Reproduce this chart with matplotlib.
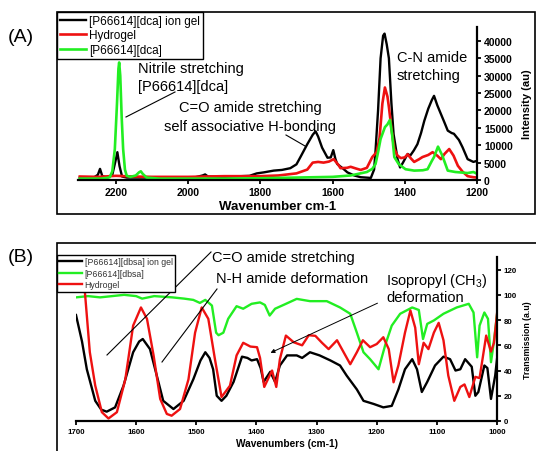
import numpy as np
import matplotlib
matplotlib.use("Agg")
import matplotlib.pyplot as plt
from matplotlib.patches import Rectangle
from matplotlib.lines import Line2D

plt.rcParams['font.family'] = ['Liberation Sans', 'DejaVu Sans']
plt.rcParams['mathtext.fontset'] = 'custom'
plt.rcParams['mathtext.rm'] = 'Liberation Sans'

# Panel A data (Raman) =======================================================
wn_a_gel = [2300, 2260, 2250, 2244, 2238, 2225, 2210, 2200, 2196, 2190, 2183, 2170, 2100, 2060,
            1980, 1960, 1953, 1945, 1900, 1830, 1810, 1790, 1763, 1740, 1717, 1700, 1689, 1670,
            1655, 1647, 1640, 1629, 1614, 1605, 1598, 1592, 1587, 1570, 1559, 1540, 1522, 1494,
            1485, 1481, 1474, 1467, 1460, 1456, 1450, 1444, 1437, 1431, 1420, 1413, 1405, 1392,
            1385, 1375, 1365, 1355, 1346, 1335, 1325, 1319, 1310, 1300, 1290, 1281, 1270, 1264,
            1250, 1240, 1226, 1210, 1200]
int_a_gel = [700, 800, 1500, 3200, 1200, 700, 1500, 6000, 8000, 4000, 1000, 700, 700, 800,
             800, 1300, 1600, 1000, 900, 1200, 1900, 2200, 2700, 2900, 3400, 4500, 6600, 10300,
             13000, 14000, 12500, 9300, 6400, 6500, 8600, 6000, 4600, 3200, 2200, 1300, 800, 600,
             3000, 8400, 20000, 35000, 41500, 42100, 39000, 35000, 22000, 13200, 6000, 3600, 5000, 7500,
             7000, 8500, 10300, 13500, 17000, 20500, 23000, 24200, 21500, 19000, 16500, 14200, 13500, 13300,
             11500, 9400, 6000, 5200, 5500]

wn_a_hyd = [2300, 2250, 2200, 2150, 2100, 2000, 1900, 1800, 1750, 1700, 1670, 1655, 1640, 1625,
            1610, 1597, 1585, 1578, 1560, 1550, 1535, 1522, 1505, 1490, 1478, 1470, 1462, 1455,
            1448, 1444, 1436, 1429, 1420, 1411, 1400, 1392, 1383, 1374, 1360, 1351, 1335, 1323,
            1310, 1300, 1290, 1277, 1265, 1253, 1240, 1226, 1210, 1200]
int_a_hyd = [1000, 900, 1200, 1000, 900, 900, 1100, 1100, 1300, 1900, 3000, 5000, 5200, 5000,
             5300, 6000, 4500, 3400, 3500, 3800, 3300, 2900, 3500, 6600, 8000, 12000, 22000, 26600,
             24000, 21000, 14000, 8900, 7000, 6300, 6500, 7400, 6200, 5200, 6000, 6600, 7200, 8000,
             7000, 6000, 7500, 8900, 7000, 4100, 2400, 1100, 800, 700]

wn_a_il = [2300, 2240, 2225, 2217, 2210, 2203, 2197, 2193, 2191, 2188, 2184, 2180, 2175, 2170,
           2160, 2145, 2136, 2131, 2126, 2115, 2080, 2000, 1900, 1800, 1700, 1600, 1550, 1505,
           1490, 1481, 1474, 1467, 1455, 1448, 1441, 1435, 1429, 1417, 1398, 1374, 1350, 1337,
           1325, 1319, 1308, 1296, 1281, 1260, 1226, 1210, 1200]
int_a_il = [400, 400, 600, 800, 2500, 8900, 22000, 32000, 33800, 30000, 18000, 8900, 3000, 1200,
            900, 1300, 2200, 2500, 1800, 700, 400, 400, 400, 500, 700, 900, 1300, 2300,
            3200, 4600, 8000, 11800, 15200, 16000, 17300, 13000, 6600, 4600, 3100, 2700, 2800, 3100,
            5500, 6600, 9600, 7000, 2700, 2300, 2000, 2300, 1800]

# Panel B data (FTIR) ========================================================
wn_b_gel = [1700, 1690, 1682, 1668, 1658, 1649, 1635, 1621, 1605, 1595, 1589, 1577, 1563, 1555,
            1538, 1521, 1505, 1493, 1485, 1478, 1472, 1466, 1458, 1450, 1438, 1424, 1415, 1408,
            1399, 1393, 1388, 1377, 1369, 1361, 1349, 1333, 1324, 1311, 1295, 1277, 1261, 1250,
            1233, 1222, 1205, 1189, 1175, 1164, 1153, 1141, 1133, 1125, 1116, 1103, 1089, 1078,
            1069, 1061, 1053, 1042, 1036, 1031, 1021, 1016, 1010, 1003, 1000]
tr_b_gel = [84, 63, 41, 16, 9, 7.4, 10.8, 28, 54.5, 63, 65, 57, 31, 16,
            9.5, 16, 33, 48, 54.5, 50, 41, 20, 16, 20, 31, 51, 50, 48,
            49, 42, 31, 39, 31, 44, 52, 52, 50, 54.5, 52, 48, 44, 36,
            25, 16, 13.5, 10.8, 12, 25, 41, 49, 41, 23, 31, 44, 51, 49,
            40, 41, 49, 43, 20, 23, 44, 42, 17.5, 36, 49]

wn_b_il = [1700, 1680, 1660, 1640, 1620, 1600, 1590, 1570, 1540, 1520, 1505, 1494, 1485, 1474,
           1467, 1463, 1455, 1447, 1433, 1422, 1408, 1394, 1386, 1378, 1369, 1355, 1333, 1311,
           1283, 1261, 1244, 1233, 1222, 1211, 1197, 1186, 1175, 1161, 1141, 1130, 1123, 1116,
           1105, 1089, 1067, 1047, 1039, 1033, 1029, 1021, 1015, 1010, 1006, 1000]
tr_b_il = [98, 99, 98, 99, 100, 99, 97, 99, 98, 97, 96, 93.6, 96, 91.5,
           70, 68, 70, 81, 91, 89, 92.9, 94, 92, 83.6, 89, 92, 96.8, 95,
           95, 90, 85, 70, 54.5, 49, 41, 60, 75.6, 85, 90, 88, 65, 77,
           79.7, 85, 90, 92.9, 86, 50.5, 75.6, 86, 81, 46.6, 60, 84]

wn_b_hyd = [1685, 1677, 1668, 1657, 1646, 1632, 1618, 1605, 1592, 1582, 1571, 1560, 1549, 1541,
            1527, 1513, 1502, 1491, 1480, 1469, 1458, 1444, 1433, 1422, 1410, 1399, 1394, 1387,
            1374, 1367, 1361, 1351, 1338, 1324, 1313, 1302, 1291, 1280, 1266, 1255, 1244, 1233,
            1223, 1211, 1200, 1189, 1180, 1172, 1164, 1153, 1144, 1136, 1130, 1122, 1114, 1105,
            1097, 1089, 1081, 1071, 1061, 1054, 1046, 1036, 1029, 1018, 1010, 1005, 1000]
tr_b_hyd = [101, 54.5, 28, 7, 2, 7, 33, 75.6, 90, 81, 52, 17.5, 5.6, 4.2,
            9.5, 33, 70, 90, 81, 49, 19, 28, 52, 62, 59, 58.5, 50, 27,
            40, 27, 49, 67.7, 62.4, 60, 68, 67.5, 62, 57, 64, 54.5, 45, 54.5,
            64, 58.5, 61, 66.4, 57, 30.7, 44, 70, 87.6, 74, 45, 62, 57, 70,
            77.8, 64, 36, 16, 27, 29, 19, 35, 34, 67.7, 55, 62, 85]

W, H = 536, 452
def fx(x): return x/W
def fy(y): return 1 - y/H

GREEN = '#22ee22'
RED = '#ee1111'

fig = plt.figure(figsize=(W/100, H/100), dpi=100)

def style_axes(ax, fs):
    for s in ['top', 'left']:
        ax.spines[s].set_visible(False)
    for s in ['bottom', 'right']:
        ax.spines[s].set_linewidth(1.6)
    ax.yaxis.tick_right()
    ax.yaxis.set_label_position('right')
    ax.tick_params(direction='out', length=3, width=1.3, labelsize=fs, pad=2)
    for lab in ax.get_xticklabels() + ax.get_yticklabels():
        lab.set_fontweight('bold')

# (A) =========================================================================
axA = fig.add_axes([fx(78), fy(181), (477-78)/W, (181-28)/H])
axA.plot(wn_a_gel, int_a_gel, color='black', lw=1.7, label='[P66614][dca] ion gel')
axA.plot(wn_a_hyd, int_a_hyd, color=RED, lw=1.9, label='Hydrogel')
axA.plot(wn_a_il, int_a_il, color=GREEN, lw=1.9, label='[P66614][dca]')
axA.set_xlim(2305, 1200); axA.set_ylim(0, 44000)
axA.set_xticks([2200, 2000, 1800, 1600, 1400, 1200])
axA.set_yticks(np.arange(0, 40001, 5000))
style_axes(axA, 7.5)
axA.set_xlabel('Wavenumber cm-1', fontsize=9.5, fontweight='bold', labelpad=2)
axA.set_ylabel('Intensity (au)', fontsize=8, fontweight='bold', labelpad=7)

legA = fig.legend(*axA.get_legend_handles_labels(), loc='upper left', bbox_to_anchor=(fx(57), fy(13)),
                  bbox_transform=fig.transFigure, fontsize=8.5, frameon=True, fancybox=False,
                  edgecolor='black', framealpha=1, borderpad=0.25, handlelength=2.2,
                  handletextpad=0.25, labelspacing=0.2, borderaxespad=0)
legA.get_frame().set_linewidth(1.0)

fig.text(fx(138), fy(69), 'Nitrile stretching', fontsize=10.5, va='center')
fig.text(fx(138), fy(87), '[P66614][dca]', fontsize=10.5, va='center')
fig.add_artist(Line2D([fx(126), fx(175)], [fy(118), fy(93)], color='black', lw=0.8))
fig.text(fx(250), fy(108), 'C=O amide stretching', fontsize=10.5, ha='center', va='center')
fig.text(fx(250), fy(127), 'self associative H-bonding', fontsize=10.5, ha='center', va='center')
fig.add_artist(Line2D([fx(286), fx(305)], [fy(136), fy(147)], color='black', lw=0.8))
fig.text(fx(397), fy(58), 'C-N amide', fontsize=10.5, va='center')
fig.text(fx(397), fy(76), 'stretching', fontsize=10.5, va='center')

fig.add_artist(Rectangle((fx(57), fy(215)), (535-57)/W, (215-13)/H, transform=fig.transFigure,
                         fill=False, lw=1.2, edgecolor='black'))
fig.text(fx(8), fy(38), '(A)', fontsize=14, va='center')

# (B) =========================================================================
axB = fig.add_axes([fx(76), fy(422), (497-76)/W, (422-258)/H])
axB.plot(wn_b_gel, tr_b_gel, color='black', lw=1.7, label='[P66614][dbsa] ion gel')
axB.plot(wn_b_il, tr_b_il, color=GREEN, lw=1.7, label='[P66614][dbsa]')
axB.plot(wn_b_hyd, tr_b_hyd, color=RED, lw=1.7, label='Hydrogel')
axB.set_xlim(1700, 1000); axB.set_ylim(0, 130)
axB.set_xticks(np.arange(1700, 999, -100))
axB.set_yticks(np.arange(0, 121, 20))
style_axes(axB, 5.7)
axB.set_xlabel('Wavenumbers (cm-1)', fontsize=7.3, fontweight='bold', labelpad=2)
axB.set_ylabel('Transmission (a.u)', fontsize=6.3, fontweight='bold', labelpad=4)

legB = fig.legend(*axB.get_legend_handles_labels(), loc='upper left', bbox_to_anchor=(fx(57), fy(256)),
                  bbox_transform=fig.transFigure, fontsize=6.3, frameon=True, fancybox=False,
                  edgecolor='black', framealpha=1, borderpad=0.25, handlelength=2.6,
                  handletextpad=0.3, labelspacing=0.3, borderaxespad=0)
legB.get_frame().set_linewidth(1.0)
for t in legB.get_texts():
    t.set_color('#333333')

fig.text(fx(212), fy(258), 'C=O amide stretching', fontsize=10.5, va='center')
fig.add_artist(Line2D([fx(107), fx(211)], [fy(356), fy(253)], color='black', lw=0.8))
fig.text(fx(216), fy(279), 'N-H amide deformation', fontsize=10.5, va='center')
fig.add_artist(Line2D([fx(162), fx(217)], [fy(363), fy(290)], color='black', lw=0.8))
fig.text(fx(386), fy(281), 'Isopropyl (CH$\\mathregular{_3}$)', fontsize=10.5, va='center')
fig.text(fx(386), fy(298), 'deformation', fontsize=10.5, va='center')
fig.add_artist(matplotlib.patches.FancyArrowPatch((fx(380), fy(303)), (fx(268), fy(355)),
               transform=fig.transFigure, arrowstyle='-|>', mutation_scale=6, lw=0.7, color='black'))

fig.add_artist(Rectangle((fx(57), fy(470)), (560-57)/W, (470-244)/H, transform=fig.transFigure,
                         fill=False, lw=1.2, edgecolor='black'))
fig.text(fx(8), fy(258), '(B)', fontsize=14, va='center')

fig.savefig('out.png', dpi=100)
